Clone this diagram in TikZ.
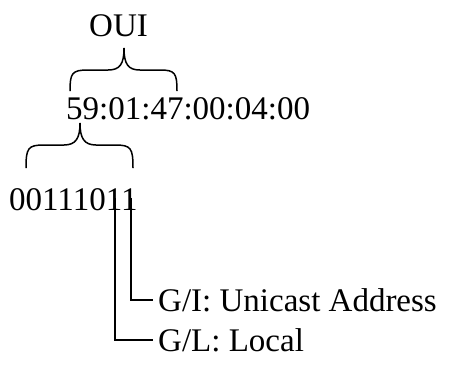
\documentclass[tikz,border=0pt]{standalone}
\usepackage{fontspec}
\setmainfont{Liberation Serif}
\begin{document}
\begin{tikzpicture}[x=1pt,y=-1pt,
  lbl/.style={inner sep=0pt,font=\fontsize{33}{40}\selectfont},
  ln/.style={line width=1.5pt},
  brc/.style={line width=1.5pt}]
\useasboundingbox (0,0) rectangle (449,373);
% texts
\node[lbl,anchor=base west] (oui) at (89,36) {OUI};
\node[lbl,anchor=base west] (mac) at (66,119) {59:01:47:00:04:00};
\node[lbl,anchor=base west] (bits) at (9,210) {00111011};
\node[lbl,anchor=west] (gi) at (158,300) {G/I: Unicast Address};
\node[lbl,anchor=west] (gl) at (158,340) {G/L: Local};
% braces
\draw[brc] (70,91) .. controls (70,73) and (72,70) .. (88,70) -- (108,70)
  .. controls (120,70) and (124,64) .. (124,48)
  .. controls (124,64) and (128,70) .. (140,70) -- (160,70)
  .. controls (175,70) and (177,73) .. (177,91);
\draw[brc] (26,168) .. controls (26,148) and (28,145) .. (44,145) -- (64,145)
  .. controls (76,145) and (80,138) .. (80,123)
  .. controls (80,138) and (84,145) .. (96,145) -- (115,145)
  .. controls (131,145) and (133,148) .. (133,168);
% connectors
\coordinate (b7) at (115,198);
\coordinate (b8) at (131,198);
\coordinate (gie) at (153,300);
\coordinate (gle) at (153,340);
\draw[ln] (b8) |- (gie);
\draw[ln] (b7) |- (gle);
\end{tikzpicture}
\end{document}
